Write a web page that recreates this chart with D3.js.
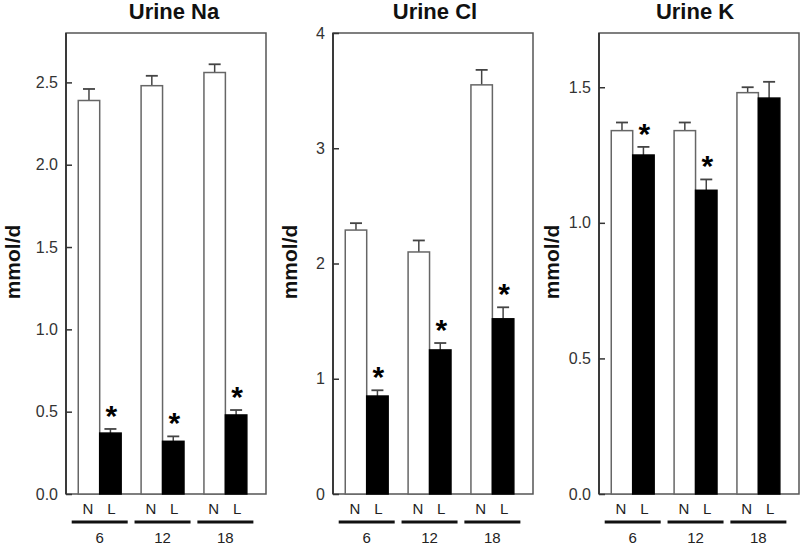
<!DOCTYPE html>
<html><head><meta charset="utf-8">
<script src="https://cdn.jsdelivr.net/npm/d3@7"></script>
<style>body{margin:0;background:#fff}svg{display:block}text{font-family:"Liberation Sans",Arial,sans-serif}</style>
</head><body><svg id="c" width="800" height="547"></svg>
<script>
const categories = ["6", "12", "18"];
const groups = ["N", "L"];
const titles = ["Urine Na", "Urine Cl", "Urine K"];
const yLabel = "mmol/d";

const naN = [2.39, 2.48, 2.56], naNErr = [0.07, 0.06, 0.05];
const naL = [0.37, 0.32, 0.48], naLErr = [0.025, 0.03, 0.03];
const clN = [2.29, 2.10, 3.55], clNErr = [0.06, 0.10, 0.13];
const clL = [0.85, 1.25, 1.52], clLErr = [0.05, 0.06, 0.10];
const kN = [1.34, 1.34, 1.48], kNErr = [0.03, 0.03, 0.02];
const kL = [1.25, 1.12, 1.46], kLErr = [0.03, 0.04, 0.06];

const naTicks = [0, 0.5, 1.0, 1.5, 2.0, 2.5];
const clTicks = [0, 1, 2, 3, 4];
const kTicks = [0, 0.5, 1.0, 1.5];
const naMax = 2.8, clMax = 4, kMax = 1.7;
const naSig = [true, true, true], clSig = [true, true, true], kSig = [true, true, false];

const panels = [
  {title: titles[0], n: naN, ne: naNErr, l: naL, le: naLErr, ticks: naTicks, max: naMax, fmt: d3.format(".1f"), sig: naSig},
  {title: titles[1], n: clN, ne: clNErr, l: clL, le: clLErr, ticks: clTicks, max: clMax, fmt: d3.format("d"), sig: clSig},
  {title: titles[2], n: kN, ne: kNErr, l: kL, le: kLErr, ticks: kTicks, max: kMax, fmt: d3.format(".1f"), sig: kSig}
];
const boxLeft = [66, 333, 599];
const titleDx = [8, 2, -4];
const ylabX = [13, 290, 552];
const boxW = 200, plotTop = 33, plotBottom = 494;

const svg = d3.select("#c");
panels.forEach((p, i) => {
  const x0 = boxLeft[i];
  const g = svg.append("g");
  const y = d3.scaleLinear().domain([0, p.max]).range([plotBottom, plotTop]);
  const xb = d3.scaleBand().domain(categories).range([x0, x0 + boxW]).paddingInner(20/63).paddingOuter(0.25).align(0.39);
  const xi = d3.scaleBand().domain(groups).range([0, xb.bandwidth()]);

  // frame
  g.append("rect").attr("x", x0).attr("y", plotTop).attr("width", boxW).attr("height", plotBottom - plotTop)
    .attr("fill", "none").attr("stroke", "#555").attr("stroke-width", 1.5);
  g.append("line").attr("x1", x0).attr("x2", x0).attr("y1", plotTop).attr("y2", plotBottom).attr("stroke", "#333").attr("stroke-width", 1.8);

  // y axis (ticks inward)
  const ax = g.append("g").attr("transform", `translate(${x0},0)`)
    .call(d3.axisRight(y).tickValues(p.ticks).tickFormat(p.fmt).tickSize(6));
  ax.select(".domain").remove();
  ax.selectAll(".tick line").attr("stroke", "#333").attr("stroke-width", 1.5);
  ax.selectAll(".tick text").attr("x", -8).attr("text-anchor", "end").attr("font-size", 16).attr("fill", "#333")
    .attr("font-family", "Liberation Sans, Arial, sans-serif");

  const series = [{k: "N", v: p.n, e: p.ne}, {k: "L", v: p.l, e: p.le}];
  series.forEach(s => {
    categories.forEach((c, j) => {
      const bx = xb(c) + xi(s.k), bw = xi.bandwidth();
      const cx = bx + bw / 2;
      const et = y(s.v[j] + s.e[j]);
      g.append("line").attr("x1", cx).attr("x2", cx).attr("y1", y(s.v[j])).attr("y2", et).attr("stroke", "#444").attr("stroke-width", 1.5);
      g.append("line").attr("x1", cx - 6).attr("x2", cx + 6).attr("y1", et).attr("y2", et).attr("stroke", "#444").attr("stroke-width", 1.8);
      g.append("rect").attr("x", bx).attr("y", y(s.v[j])).attr("width", bw).attr("height", y(0) - y(s.v[j]))
        .attr("fill", s.k === "N" ? "#fff" : "#000").attr("stroke", s.k === "N" ? "#666" : "#000").attr("stroke-width", 1.5);
      if (s.k === "L" && p.sig[j]) {
        g.append("text").attr("x", cx + 1).attr("y", et - 3).attr("text-anchor", "middle")
          .attr("font-size", 30).attr("font-weight", "bold").attr("fill", "#000").text("*");
      }
    });
  });

  // group labels
  categories.forEach(c => {
    groups.forEach(k => {
      g.append("text").attr("x", xb(c) + xi(k) + xi.bandwidth() / 2 + (k === "N" ? -1 : 1)).attr("y", 514)
        .attr("text-anchor", "middle").attr("font-size", 15).attr("fill", "#222").text(k);
    });
    const gc = xb(c) + xb.bandwidth() / 2;
    g.append("line").attr("x1", gc - 28).attr("x2", gc + 28).attr("y1", 522).attr("y2", 522).attr("stroke", "#111").attr("stroke-width", 2.8);
    g.append("text").attr("x", gc).attr("y", 543).attr("text-anchor", "middle").attr("font-size", 15).attr("fill", "#222").text(c);
  });

  // title
  g.append("text").attr("x", x0 + boxW / 2 + titleDx[i]).attr("y", 19).attr("text-anchor", "middle")
    .attr("font-size", 22).attr("font-weight", "bold").attr("fill", "#111").text(p.title);
  // y label
  g.append("text").attr("transform", `translate(${ylabX[i] + 7},262) rotate(-90)`).attr("text-anchor", "middle")
    .attr("font-size", 21).attr("font-weight", "bold").attr("fill", "#111").text(yLabel);
});
</script></body></html>
